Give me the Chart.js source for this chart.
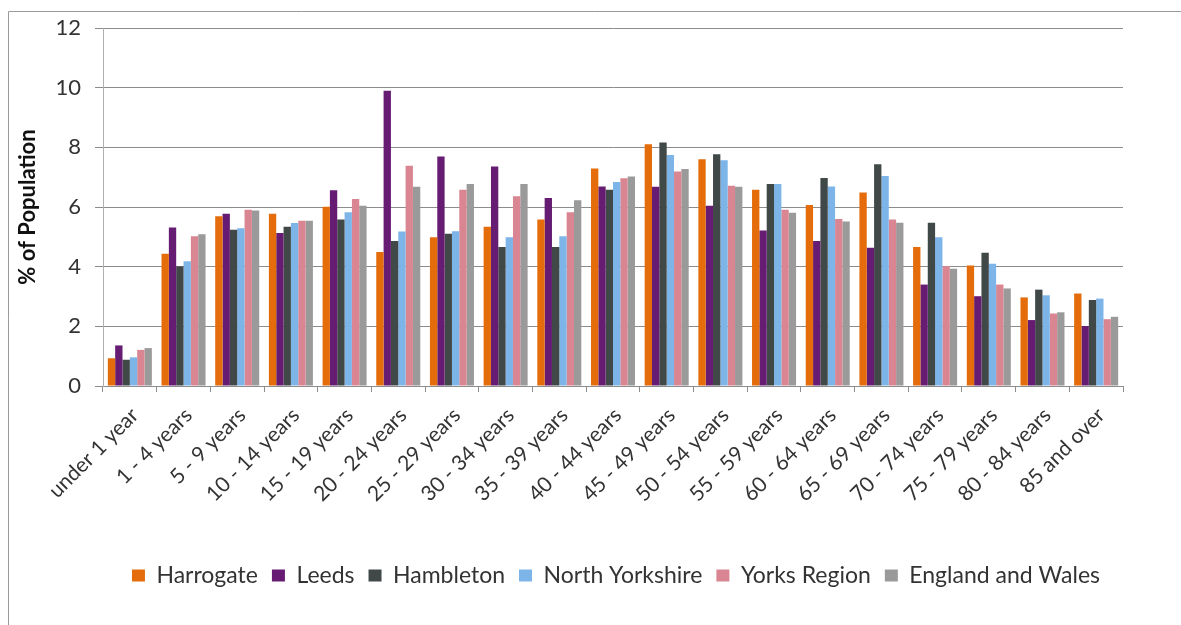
<!DOCTYPE html>
<html>
<head>
<meta charset="utf-8">
<script src="https://cdn.jsdelivr.net/npm/chart.js@4/dist/chart.umd.min.js"></script>
<style>
  html, body { margin: 0; padding: 0; background: #ffffff; }
  #wrap { position: relative; width: 1181px; height: 625px; }
</style>
</head>
<body>
<div id="wrap"><canvas id="c" width="1181" height="625"></canvas></div>
<script>
const categories = ["under 1 year", "1 - 4 years", "5 - 9 years", "10 - 14 years", "15 - 19 years",
  "20 - 24 years", "25 - 29 years", "30 - 34 years", "35 - 39 years", "40 - 44 years",
  "45 - 49 years", "50 - 54 years", "55 - 59 years", "60 - 64 years", "65 - 69 years",
  "70 - 74 years", "75 - 79 years", "80 - 84 years", "85 and over"];

const harrogate      = [0.93, 4.43, 5.69, 5.77, 6.01, 4.49, 4.99, 5.34, 5.58, 7.29, 8.10, 7.60, 6.58, 6.07, 6.49, 4.66, 4.04, 2.97, 3.10];
const leeds          = [1.36, 5.31, 5.77, 5.13, 6.56, 9.90, 7.69, 7.36, 6.30, 6.69, 6.68, 6.04, 5.21, 4.86, 4.63, 3.40, 3.01, 2.21, 2.01];
const hambleton      = [0.88, 4.01, 5.24, 5.34, 5.58, 4.86, 5.10, 4.66, 4.66, 6.58, 8.16, 7.77, 6.77, 6.97, 7.43, 5.47, 4.47, 3.23, 2.88];
const northYorkshire = [0.96, 4.18, 5.29, 5.46, 5.82, 5.18, 5.19, 4.99, 5.02, 6.84, 7.74, 7.57, 6.77, 6.69, 7.04, 4.99, 4.10, 3.04, 2.93];
const yorksRegion    = [1.21, 5.02, 5.91, 5.54, 6.27, 7.38, 6.58, 6.36, 5.82, 6.96, 7.19, 6.71, 5.91, 5.60, 5.58, 4.02, 3.40, 2.43, 2.24];
const englandWales   = [1.27, 5.09, 5.88, 5.54, 6.04, 6.68, 6.77, 6.77, 6.23, 7.02, 7.27, 6.68, 5.81, 5.51, 5.47, 3.93, 3.27, 2.47, 2.32];

const seriesNames = ["Harrogate", "Leeds", "Hambleton", "North Yorkshire", "Yorks Region", "England and Wales"];
const seriesData = [harrogate, leeds, hambleton, northYorkshire, yorksRegion, englandWales];
const seriesColors = ["#E46C0A", "#661C73", "#404848", "#7DB5E8", "#D98592", "#9A9A9A"];

const yTicks = [0, 2, 4, 6, 8, 10, 12];
const yTitle = "% of Population";

const FONT = "Lato, 'Liberation Sans', sans-serif";

const borderPlugin = {
  id: 'outerBorder',
  beforeDraw(chart) {
    const ctx = chart.ctx;
    ctx.save();
    ctx.fillStyle = '#ffffff';
    ctx.fillRect(0, 0, chart.width, chart.height);
    ctx.strokeStyle = '#9a9a9a';
    ctx.lineWidth = 1;
    ctx.beginPath();
    ctx.moveTo(8.5, chart.height);
    ctx.lineTo(8.5, 11.5);
    ctx.lineTo(chart.width, 11.5);
    ctx.stroke();
    ctx.restore();
    // centre the legend under the plot area, as in the original
    if (chart.legend) {
      chart.legend.left = chart.chartArea.left;
      chart.legend.right = chart.chartArea.right + 6;
    }
  }
};

new Chart(document.getElementById('c'), {
  type: 'bar',
  data: {
    labels: categories,
    datasets: seriesNames.map((n, i) => ({
      label: n,
      data: seriesData[i],
      backgroundColor: seriesColors[i],
      borderWidth: 0,
      categoryPercentage: 0.82,
      barPercentage: 1.0
    }))
  },
  options: {
    responsive: false,
    animation: false,
    devicePixelRatio: 1,
    layout: { padding: { left: 8, right: 58, top: 28, bottom: 28 } },
    plugins: {
      tooltip: { enabled: false },
      legend: {
        position: 'bottom',
        labels: {
          font: { family: FONT, size: 23 },
          color: '#333333',
          boxWidth: 13,
          boxHeight: 12,
          padding: 14
        }
      }
    },
    scales: {
      x: {
        grid: { display: true, drawOnChartArea: false, tickLength: 6, color: '#8c8c8c', offset: true },
        border: { display: true, color: '#8c8c8c' },
        ticks: {
          font: { family: FONT, size: 21 },
          color: '#333333',
          maxRotation: 45,
          minRotation: 45,
          autoSkip: false,
          padding: 11,
          labelOffset: 5
        },
        afterFit(scale) { scale.height = 164; }
      },
      y: {
        min: 0,
        max: 12,
        afterBuildTicks(scale) { scale.ticks = yTicks.map(v => ({ value: v })); },
        grid: { color: '#8c8c8c', tickLength: 8 },
        border: { display: true, color: '#b0b0b0' },
        ticks: {
          font: { family: FONT, size: 22 },
          color: '#333333',
          padding: 14
        },
        title: {
          display: true,
          text: yTitle,
          font: { family: FONT, size: 22, weight: 'bold' },
          color: '#111111',
          padding: { top: 7, bottom: 0 }
        },
        afterFit(scale) { scale.width = 95; }
      }
    }
  },
  plugins: [borderPlugin]
});
</script>
</body>
</html>
